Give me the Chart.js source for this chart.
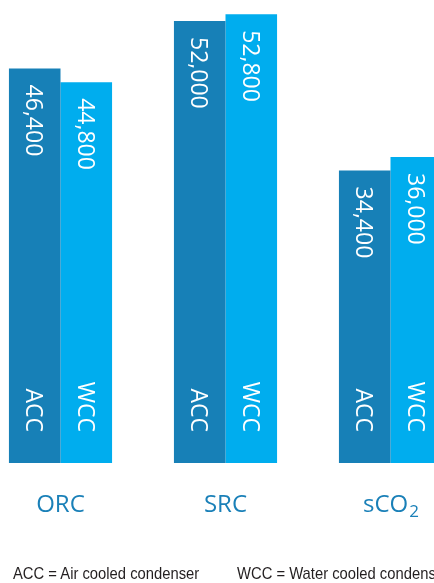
<!DOCTYPE html>
<html>
<head>
<meta charset="utf-8">
<script src="https://cdn.jsdelivr.net/npm/chart.js@4/dist/chart.umd.min.js"></script>
<style>
  html, body { margin: 0; padding: 0; background: #fff; overflow: hidden; width: 434px; height: 583px; }
  #wrap { position: absolute; left: -22px; top: 0; width: 495px; height: 583px; }
  .note { position: absolute; top: 564px; white-space: nowrap; font-family: "Liberation Sans", Arial, sans-serif; font-size: 17px; color: #231f20; line-height: 20px; transform: scaleX(0.87); transform-origin: 0 0; }
</style>
</head>
<body>
<div id="wrap"><canvas id="c" width="495" height="583"></canvas></div>
<div class="note" style="left:13px">ACC = Air cooled condenser</div>
<div class="note" style="left:237px">WCC = Water cooled condenser</div>
<script>
const categories = ["ORC", "SRC", "sCO2"];
const seriesNames = ["ACC", "WCC"];
const accValues = [46400, 52000, 34400];
const wccValues = [44800, 52800, 36000];

const ACC_COLOR = "#1780b7";
const WCC_COLOR = "#00adee";
const LABEL_COLOR = "#1a80b8";

const barTextPlugin = {
  id: "barText",
  afterDatasetsDraw(chart) {
    const ctx = chart.ctx;
    chart.data.datasets.forEach((ds, di) => {
      const meta = chart.getDatasetMeta(di);
      meta.data.forEach((bar, i) => {
        const v = ds.data[i];
        ctx.save();
        ctx.fillStyle = "#ffffff";
        ctx.font = "23px 'Open Sans', sans-serif";
        ctx.textBaseline = "middle";
        ctx.save();
        ctx.translate(bar.x - 2, bar.y + 16);
        ctx.rotate(Math.PI / 2);
        ctx.textAlign = "left";
        ctx.fillText(v.toLocaleString("en-US"), 0, 0);
        ctx.restore();
        ctx.save();
        ctx.translate(bar.x - 2, bar.base - 31);
        ctx.rotate(Math.PI / 2);
        ctx.textAlign = "right";
        ctx.fillText(ds.label, 0, 0);
        ctx.restore();
        ctx.restore();
      });
    });
    const xs = chart.scales.x;
    const yBase = chart.scales.y.getPixelForValue(0);
    ctx.save();
    ctx.fillStyle = LABEL_COLOR;
    ctx.textBaseline = "alphabetic";
    categories.forEach((c, i) => {
      const cx = xs.getPixelForValue(i);
      const by = yBase + 49;
      if (c === "sCO2") {
        const main = "sCO", sub = "2";
        ctx.font = "24px 'Open Sans', sans-serif";
        const w1 = ctx.measureText(main).width;
        ctx.font = "17px 'Open Sans', sans-serif";
        const w2 = ctx.measureText(sub).width;
        const start = cx - (w1 + w2) / 2;
        ctx.font = "24px 'Open Sans', sans-serif";
        ctx.textAlign = "left";
        ctx.fillText(main, start, by);
        ctx.font = "17px 'Open Sans', sans-serif";
        ctx.fillText(sub, start + w1 + 1, by + 5);
      } else {
        ctx.font = "24px 'Open Sans', sans-serif";
        ctx.textAlign = "center";
        ctx.fillText(c, cx, by);
      }
    });
    ctx.restore();
  }
};

new Chart(document.getElementById("c"), {
  type: "bar",
  data: {
    labels: categories,
    datasets: [
      { label: seriesNames[0], data: accValues, backgroundColor: ACC_COLOR, borderWidth: 0 },
      { label: seriesNames[1], data: wccValues, backgroundColor: WCC_COLOR, borderWidth: 0 }
    ]
  },
  options: {
    responsive: false,
    animation: false,
    layout: { padding: { top: 4, bottom: 120, left: 0, right: 0 } },
    datasets: { bar: { categoryPercentage: 0.625, barPercentage: 1.0 } },
    plugins: { legend: { display: false }, tooltip: { enabled: false } },
    scales: {
      x: { display: false },
      y: { display: false, min: 0, max: 54000 }
    }
  },
  plugins: [barTextPlugin]
});
</script>
</body>
</html>
